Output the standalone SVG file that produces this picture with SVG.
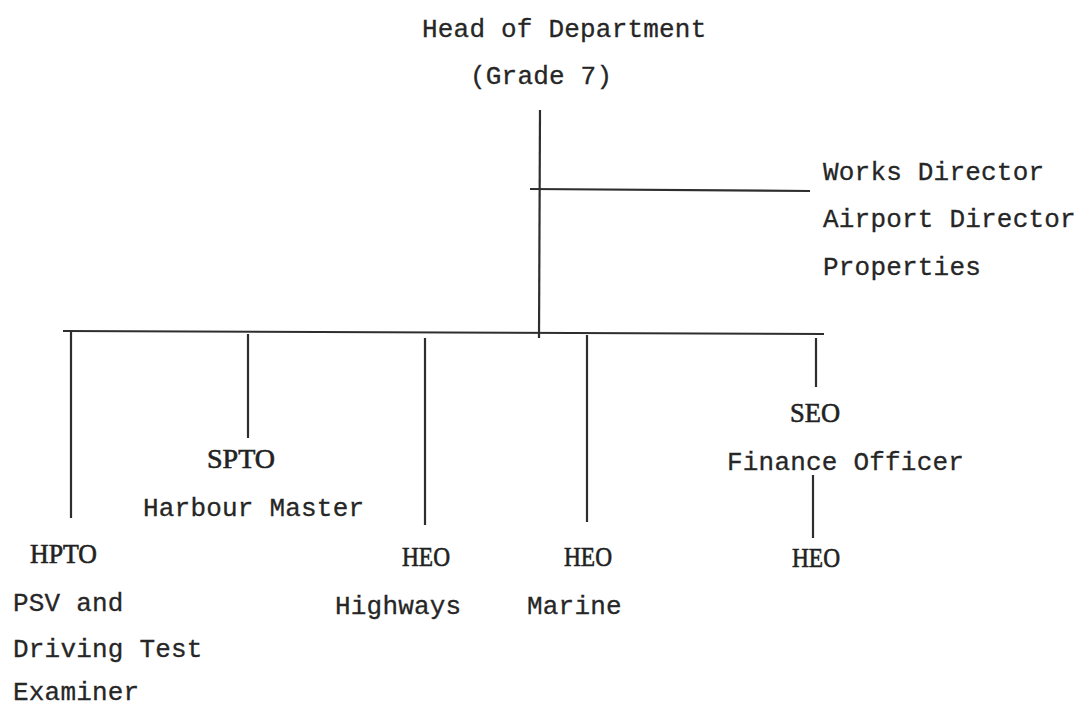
<svg xmlns="http://www.w3.org/2000/svg" width="1088" height="709" viewBox="0 0 1088 709">
  <style>
    .mono { font-family: "Liberation Mono", "DejaVu Sans Mono", monospace; font-size: 26px; letter-spacing: 0.2px; fill: #262626; stroke: #262626; stroke-width: 0.3; }
    .abbr { font-family: "Liberation Serif", "DejaVu Serif", serif; font-size: 27px; fill: #222; stroke: #222; stroke-width: 0.6; }
    .rule { stroke: #2e2e2e; stroke-width: 2.2; fill: none; stroke-linecap: butt; }
  </style>
  <rect width="1088" height="709" fill="#ffffff"/>

  <!-- reporting lines -->
  <g id="connectors">
    <line class="rule" x1="540" y1="110" x2="539" y2="338"/>
    <line class="rule" x1="530" y1="189" x2="810" y2="191"/>
    <line class="rule" x1="63" y1="331" x2="824" y2="334"/>
    <line class="rule" x1="71" y1="332" x2="71" y2="518"/>
    <line class="rule" x1="248" y1="334" x2="248" y2="438"/>
    <line class="rule" x1="425" y1="338" x2="425" y2="525"/>
    <line class="rule" x1="587" y1="335" x2="587" y2="522"/>
    <line class="rule" x1="816" y1="338" x2="816" y2="387"/>
    <line class="rule" x1="813" y1="475" x2="813" y2="538"/>
  </g>

  <g id="head">
    <text class="mono" x="422" y="37">Head of Department</text>
    <text class="mono" x="470" y="84">(Grade 7)</text>
  </g>

  <g id="directors">
    <text class="mono" x="823" y="180">Works Director</text>
    <text class="mono" x="823" y="227">Airport Director</text>
    <text class="mono" x="823" y="275">Properties</text>
  </g>

  <g id="hpto">
    <text class="abbr" x="30" y="563" textLength="67" lengthAdjust="spacingAndGlyphs">HPTO</text>
    <text class="mono" x="13" y="611">PSV and</text>
    <text class="mono" x="13" y="657">Driving Test</text>
    <text class="mono" x="13" y="700">Examiner</text>
  </g>

  <g id="spto">
    <text class="abbr" x="207" y="468" textLength="68" lengthAdjust="spacingAndGlyphs">SPTO</text>
    <text class="mono" x="143" y="516">Harbour Master</text>
  </g>

  <g id="heo-highways">
    <text class="abbr" x="402" y="566" textLength="48" lengthAdjust="spacingAndGlyphs">HEO</text>
    <text class="mono" x="335" y="614">Highways</text>
  </g>

  <g id="heo-marine">
    <text class="abbr" x="564" y="566" textLength="48" lengthAdjust="spacingAndGlyphs">HEO</text>
    <text class="mono" x="527" y="614">Marine</text>
  </g>

  <g id="seo-finance">
    <text class="abbr" x="790" y="422" textLength="50" lengthAdjust="spacingAndGlyphs">SEO</text>
    <text class="mono" x="727" y="470">Finance Officer</text>
  </g>

  <g id="heo-finance">
    <text class="abbr" x="792" y="567" textLength="48" lengthAdjust="spacingAndGlyphs">HEO</text>
  </g>
</svg>
